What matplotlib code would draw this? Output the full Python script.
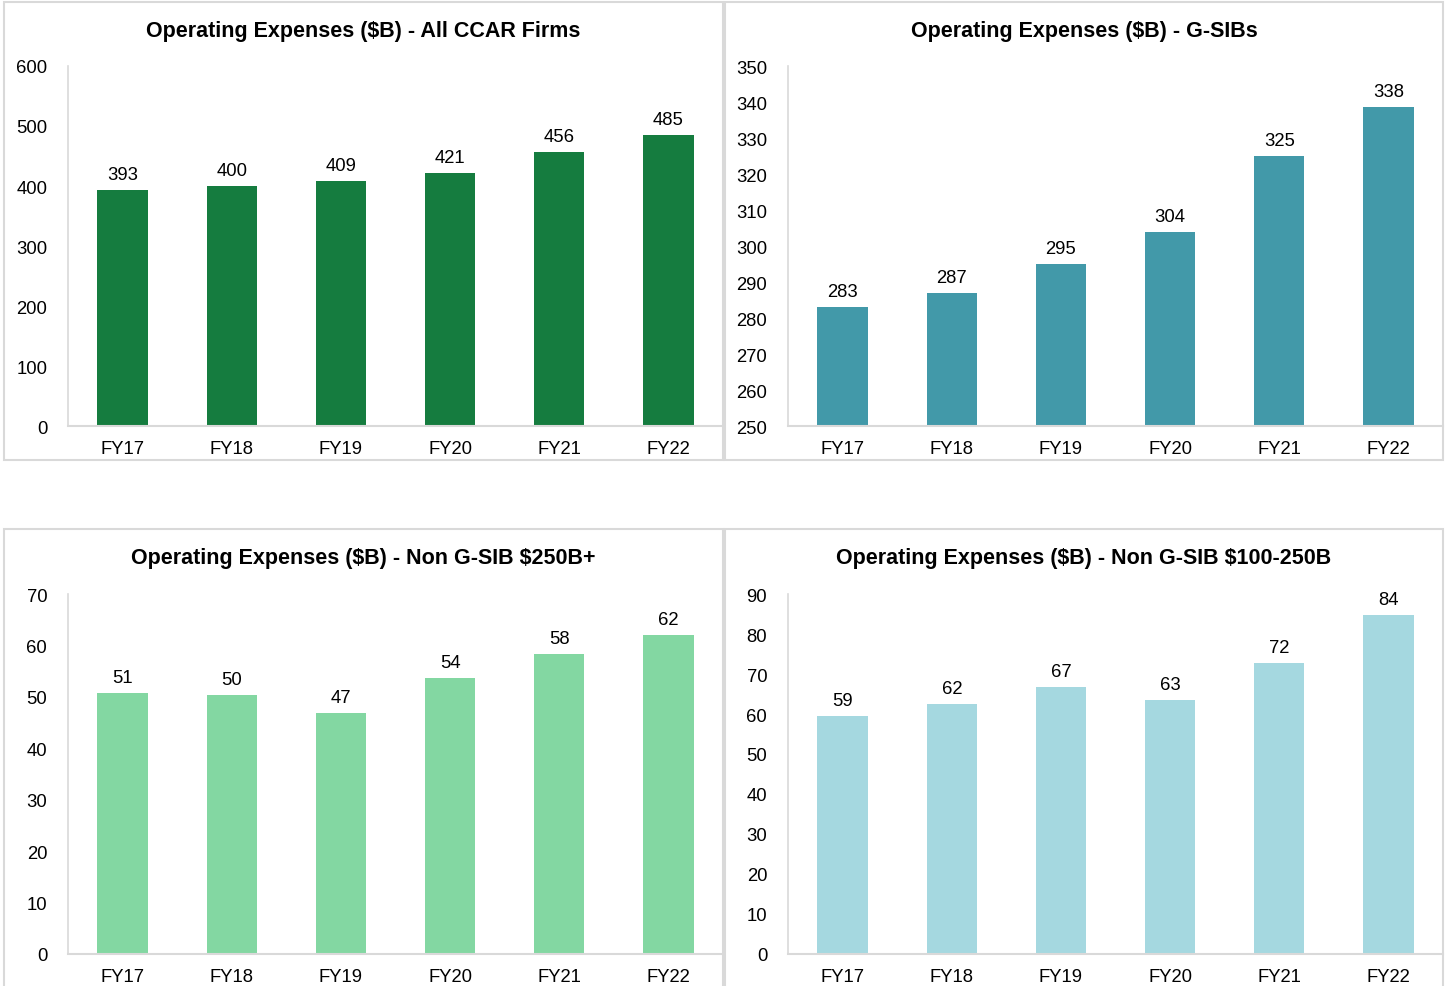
import matplotlib.pyplot as plt
from matplotlib.patches import Rectangle

plt.rcParams['font.family'] = ['Liberation Sans', 'DejaVu Sans']
plt.rcParams['text.parse_math'] = False

# Données
years = ['FY17', 'FY18', 'FY19', 'FY20', 'FY21', 'FY22']

all_ccar = [393, 400, 409, 421, 456, 485]
gsibs = [283, 287, 295, 304, 325, 338.6]
non_gsib_250 = [50.7, 50.4, 46.9, 53.7, 58.4, 62.0]
non_gsib_100 = [59.5, 62.5, 66.8, 63.5, 72.7, 84.7]

all_ccar_labels = ['393', '400', '409', '421', '456', '485']
gsibs_labels = ['283', '287', '295', '304', '325', '338']
non_gsib_250_labels = ['51', '50', '47', '54', '58', '62']
non_gsib_100_labels = ['59', '62', '67', '63', '72', '84']

W, H = 1447, 987
fig = plt.figure(figsize=(W / 100, H / 100), dpi=100)


def px_rect(x0, y0, x1, y1):
    # pixels (origine en haut à gauche) -> fraction de la figure
    return [x0 / W, 1 - y1 / H, (x1 - x0) / W, (y1 - y0) / H]


def panel(box, axbox, values, labels, color, title, ymin, ymax, step):
    # cadre du panneau
    x0, y0, x1, y1 = box
    fig.patches.append(Rectangle((x0 / W, 1 - y1 / H), (x1 - x0) / W, (y1 - y0) / H,
                                 transform=fig.transFigure, fill=False,
                                 edgecolor='#D9D9D9', linewidth=1.5))
    fig.text((x0 + x1) / 2 / W, 1 - (y0 + 29) / H, title, ha='center', va='center',
             fontsize=15.5, fontweight='bold', color='black')

    ax = fig.add_axes(px_rect(*axbox))
    pos = list(range(len(years)))
    bars = ax.bar(pos, [v - ymin for v in values], bottom=ymin, width=0.46, color=color)
    for b, lab in zip(bars, labels):
        ax.annotate(lab, (b.get_x() + b.get_width() / 2, b.get_y() + b.get_height()),
                    xytext=(0, 5), textcoords='offset points', ha='center', va='bottom',
                    fontsize=13.3, color='black')
    ax.set_xlim(-0.5, len(years) - 0.5)
    ax.set_ylim(ymin, ymax)
    ax.set_yticks(range(ymin, ymax + 1, step))
    ax.set_xticks(pos)
    ax.set_xticklabels(years)
    ax.tick_params(axis='both', length=0, labelsize=13.3, colors='black')
    ax.tick_params(axis='y', pad=15)
    ax.tick_params(axis='x', pad=10)
    for s in ['top', 'right']:
        ax.spines[s].set_visible(False)
    ax.spines['left'].set_color('#D9D9D9')
    ax.spines['bottom'].set_color('#D9D9D9')
    ax.spines['left'].set_linewidth(1.2)
    ax.spines['bottom'].set_linewidth(1.5)
    return ax


panel((4, 3, 723, 461), (68, 67, 723, 427), all_ccar, all_ccar_labels, '#157C3F',
      'Operating Expenses ($B) - All CCAR Firms', 0, 600, 100)
panel((725, 3, 1443, 461), (788, 67, 1443, 427), gsibs, gsibs_labels, '#4299A9',
      'Operating Expenses ($B) - G-SIBs', 250, 350, 10)
panel((4, 530, 723, 995), (68, 595, 723, 955), non_gsib_250, non_gsib_250_labels, '#83D7A2',
      'Operating Expenses ($B) - Non G-SIB $250B+', 0, 70, 10)
panel((725, 530, 1443, 995), (788, 595, 1443, 955), non_gsib_100, non_gsib_100_labels, '#A5D8E0',
      'Operating Expenses ($B) - Non G-SIB $100-250B', 0, 90, 10)

fig.savefig('out.png', dpi=100)
